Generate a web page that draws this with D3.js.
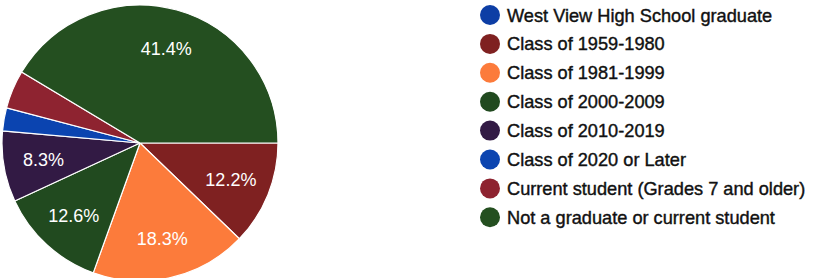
<!DOCTYPE html>
<html>
<head>
<meta charset="utf-8">
<script src="https://cdn.jsdelivr.net/npm/d3@7"></script>
<style>
  body { margin: 0; background: #fff; }
  svg { display: block; }
  text { font-family: "Liberation Sans", Arial, sans-serif; }
</style>
</head>
<body>
<svg id="chart" width="813" height="278"></svg>
<script>
const categories = [
    "West View High School graduate",
    "Class of 1959-1980",
    "Class of 1981-1999",
    "Class of 2000-2009",
    "Class of 2010-2019",
    "Class of 2020 or Later",
    "Current student (Grades 7 and older)",
    "Not a graduate or current student"
];
const values = [0, 12.2, 18.3, 12.6, 8.3, 2.7, 4.5, 41.4];
const colors = ["#0d3ea5", "#7f2121", "#fc7b3b", "#214a1f", "#321a44", "#0b44b0", "#8e2330", "#244f20"];

const svg = d3.select("#chart");
const cx = 140, cy = 143, radius = 138;

const data = categories.map((c, i) => ({ name: c, value: values[i], color: colors[i] }));

const pie = d3.pie()
    .sort(null)
    .value(d => d.value)
    .startAngle(Math.PI / 2)
    .endAngle(Math.PI / 2 + 2 * Math.PI);

const arc = d3.arc().innerRadius(0).outerRadius(radius);
const labelArc = d3.arc().innerRadius(radius * 0.71).outerRadius(radius * 0.71);

const g = svg.append("g").attr("transform", `translate(${cx},${cy})`);

const arcs = pie(data);

g.selectAll("path")
    .data(arcs)
    .join("path")
    .attr("d", arc)
    .attr("fill", d => d.data.color)
    .attr("stroke", "#fff")
    .attr("stroke-width", d => d.data.value === 0 ? 2.5 : 1.2);

g.selectAll("text")
    .data(arcs.filter(d => d.data.value >= 5))
    .join("text")
    .attr("transform", d => `translate(${labelArc.centroid(d)})`)
    .attr("text-anchor", "middle")
    .attr("dy", "0.36em")
    .attr("fill", "#fff")
    .attr("font-size", 18)
    .text(d => d.data.value.toFixed(1) + "%");

// legend
const legend = svg.append("g").attr("transform", "translate(490,15)");
const rowH = 28.9;

const rows = legend.selectAll("g")
    .data(data)
    .join("g")
    .attr("transform", (d, i) => `translate(0,${i * rowH})`);

rows.append("circle")
    .attr("r", 10)
    .attr("fill", d => d.color);

rows.append("text")
    .attr("x", 17)
    .attr("dy", "0.36em")
    .attr("font-size", 18.2)
    .attr("fill", "#111")
    .attr("stroke", "#111")
    .attr("stroke-width", 0.4)
    .text(d => d.name);
</script>
</body>
</html>
